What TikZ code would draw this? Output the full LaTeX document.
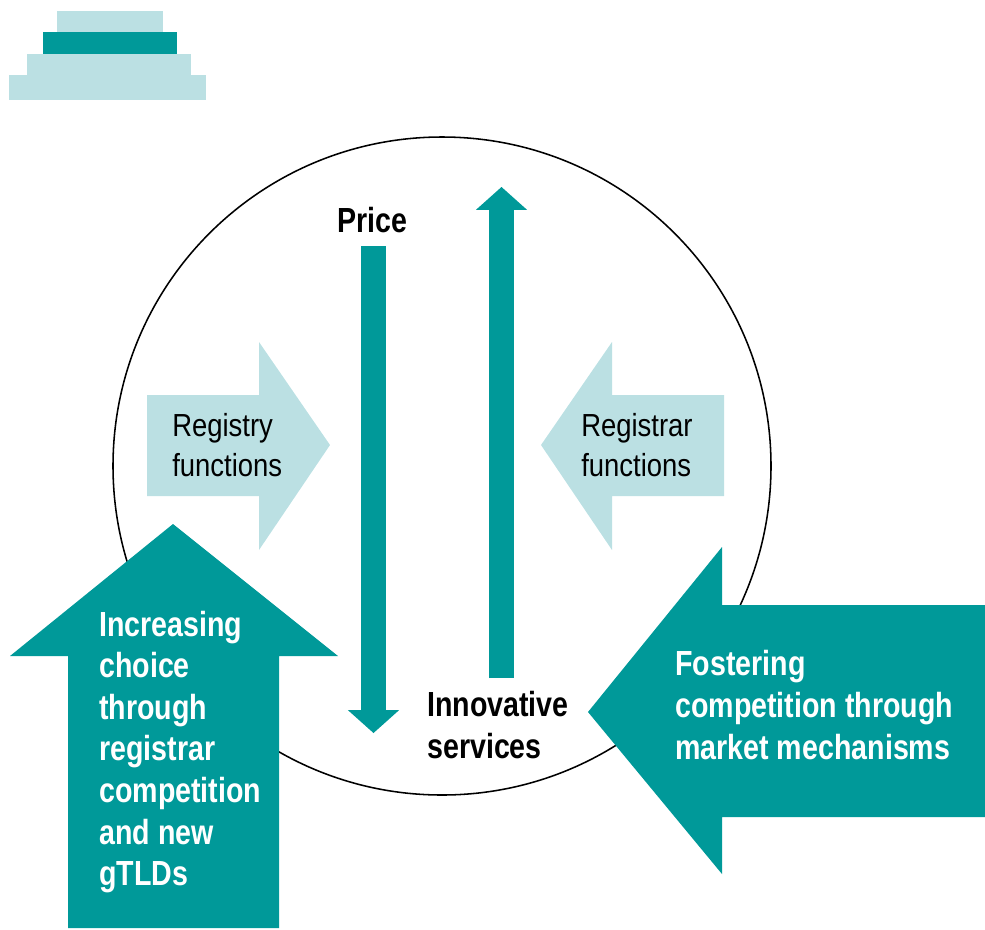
\documentclass[tikz,border=0pt]{standalone}
\usepackage{fontspec}
\setmainfont{Liberation Sans}
\newfontfamily\regularfont{Liberation Sans}[FakeStretch=0.86]
\newfontfamily\heavyfont{Liberation Sans Bold}[FakeStretch=0.82]
\usetikzlibrary{arrows.meta}
\definecolor{darkteal}{HTML}{009999}
\definecolor{lightteal}{HTML}{BBE0E3}

\begin{document}
\begin{tikzpicture}[x=0.025cm, y=-0.025cm]
    \tikzstyle darkshape=[fill=darkteal, draw=none]
    \tikzstyle lightshape=[fill=lightteal, draw=none]
    \tikzstyle plaintext=[inner sep=0, align=left, font=\regularfont\fontsize{22.7}{28.5}\selectfont]
    \tikzstyle boldtext=[inner sep=0, align=left, font=\heavyfont\fontsize{24.8}{29.6}\selectfont]
    \tikzstyle whitetext=[boldtext, text=white]
    \tikzstyle flow=[darkteal, line width=0.625cm,
      -{Triangle[width=1.275cm, length=0.57cm, line width=0pt]}]
    \useasboundingbox (0,0) rectangle (985,929);
    % logo
    \fill[lightshape] (57,11) rectangle (163,32);
    \fill[darkshape] (43,32) rectangle (177,54);
    \fill[lightshape] (27,54) rectangle (191,75);
    \fill[lightshape] (9,75) rectangle (206,100);
    % circle
    \draw[black, line width=1.1pt] (442,466) circle (329);
    % light arrows
    \fill[lightshape] (147,395) -- (259,395) -- (259,342) -- (330,445)
      -- (259,550) -- (259,496) -- (147,496) -- cycle;
    \fill[lightshape] (724,395) -- (612,395) -- (612,342) -- (541,445)
      -- (612,550) -- (612,496) -- (724,496) -- cycle;
    \node[plaintext, anchor=west] (registry) at (172,445) {Registry\\functions};
    \node[plaintext, anchor=west] (registrar) at (581,445) {Registrar\\functions};
    % price and services
    \node[boldtext, anchor=base] (price) at (372,232) {Price};
    \node[boldtext, anchor=west] (services) at (427,725) {Innovative\\services};
    \coordinate (downstart) at (373.5,246);
    \coordinate (downend) at (373.5,733);
    \coordinate (upstart) at (501.5,678);
    \coordinate (upend) at (501.5,187);
    \draw[flow] (downstart) -- (downend);
    \draw[flow] (upstart) -- (upend);
    % big arrows
    \fill[darkshape] (68,928) -- (68,656) -- (10,656) -- (173,524)
      -- (338,656) -- (279,656) -- (279,928) -- cycle;
    \fill[darkshape] (985,605) -- (722,605) -- (722,547) -- (588,712)
      -- (722,874) -- (722,817) -- (985,817) -- cycle;
    \node[whitetext, anchor=west] (choice) at (99,752)
      {Increasing\\choice\\through\\registrar\\competition\\and new\\gTLDs};
    \node[whitetext, anchor=west] (fostering) at (675,705)
      {Fostering\\competition through\\market mechanisms};
\end{tikzpicture}
\end{document}
